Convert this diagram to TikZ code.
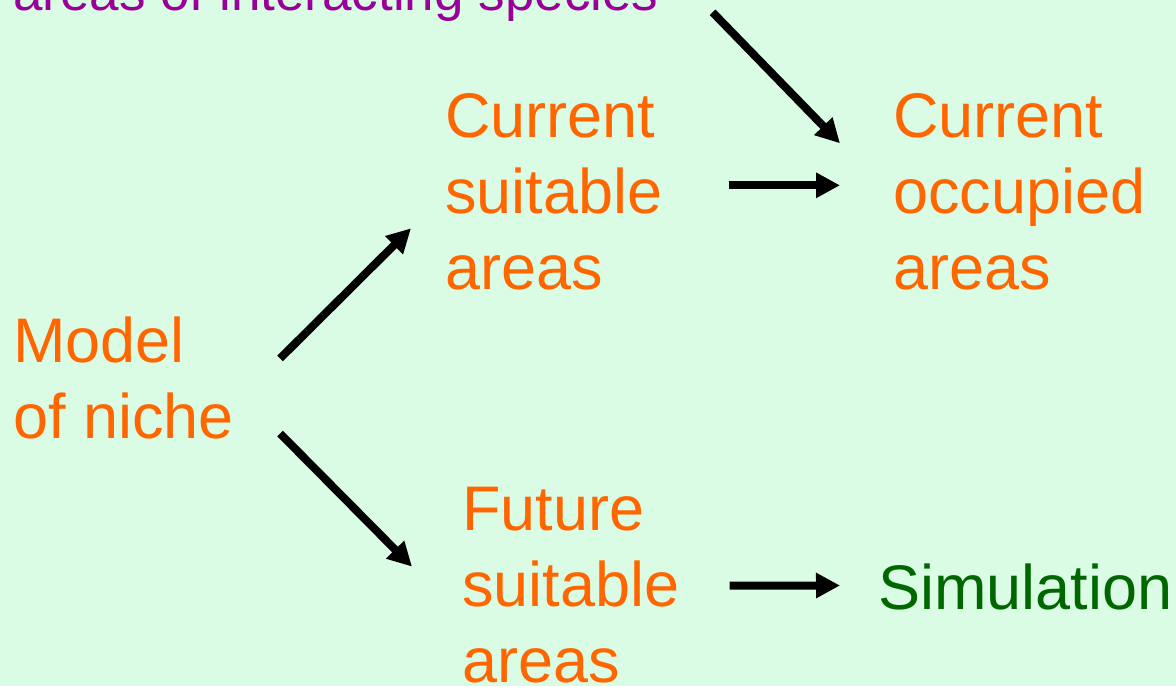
\documentclass[tikz,border=0pt]{standalone}
\usepackage{fontspec}
\setmainfont{Liberation Sans}
\usetikzlibrary{arrows.meta}
\definecolor{paleback}{RGB}{219,252,228}
\definecolor{nicheorange}{RGB}{255,102,0}
\definecolor{speciespurple}{RGB}{153,0,153}
\definecolor{simgreen}{RGB}{0,102,0}
\tikzset{
  areabox/.style={anchor=base west,inner sep=0pt,align=left,text=nicheorange,
    font=\fontsize{63}{76}\selectfont},
  arr/.style={line width=8pt,-{Triangle[length=24pt,width=24pt]}}
}
\begin{document}
\begin{tikzpicture}[x=1pt,y=-1pt]
    \fill[paleback] (0,0) rectangle (1176,686);
    \useasboundingbox (0,0) rectangle (1176,686);
    \clip (0,0) rectangle (1176,686);
    % text nodes
    \node[areabox,text=speciespurple,font=\fontsize{53}{64}\selectfont] (inter) at (13,10) {areas of interacting species};
    \node[areabox] (model) at (13,438) {Model\\of niche};
    \node[areabox] (suit) at (445,289) {Current\\suitable\\areas};
    \node[areabox] (occ) at (893,289) {Current\\occupied\\areas};
    \node[areabox] (fut) at (462,682) {Future\\suitable\\areas};
    \node[areabox,text=simgreen] (sim) at (878,609) {Simulation};
    % connectors
    \draw[arr] ([shift={(54,16)}]inter.east) -- ([shift={(-53,-48)}]occ.west);
    \draw[arr] ([shift={(66,-6)}]suit.east) -- ([shift={(-53,-6)}]occ.west);
    \draw[arr] ([shift={(46,-19)}]model.east) -- ([shift={(-34,37)}]suit.west);
    \draw[arr] ([shift={(46,56)}]model.east) -- ([shift={(-50,-18)}]fut.west);
    \draw[arr] ([shift={(50,1)}]fut.east) -- ([shift={(-38,-1)}]sim.west);
\end{tikzpicture}
\end{document}
